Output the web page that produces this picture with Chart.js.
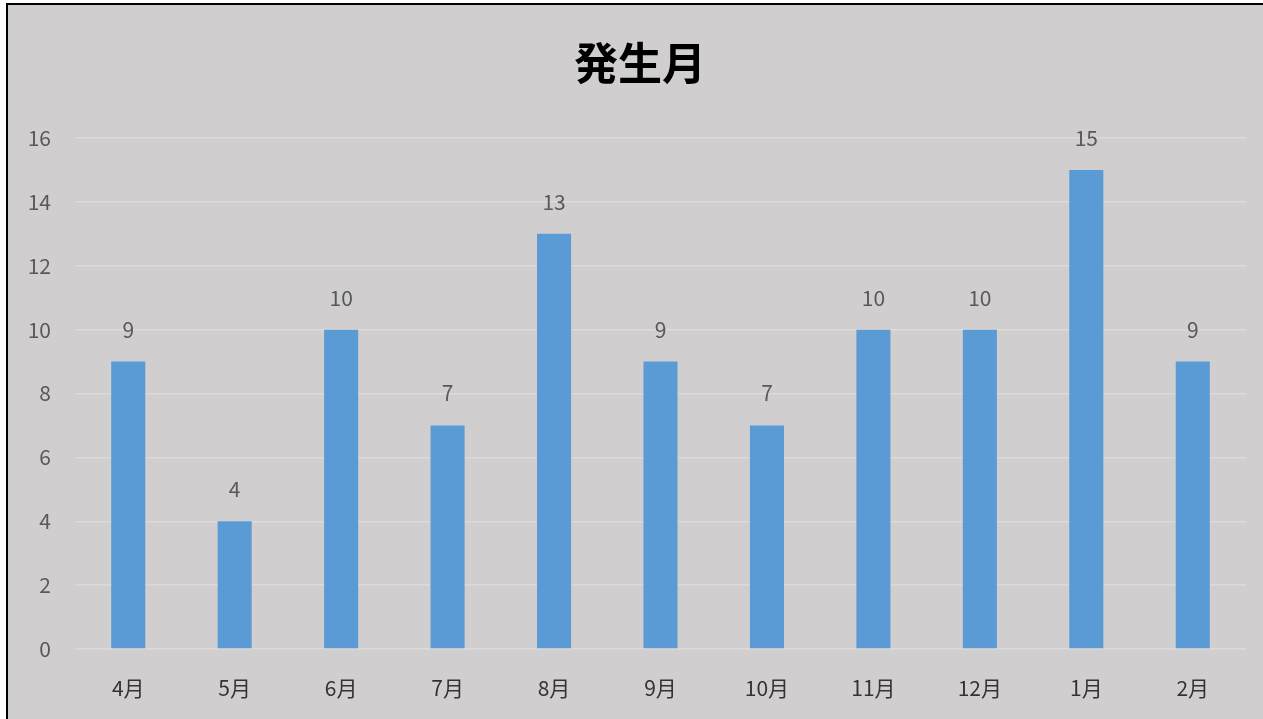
<!DOCTYPE html>
<html>
<head>
<meta charset="utf-8">
<script src="https://cdn.jsdelivr.net/npm/chart.js@4"></script>
<style>
  html, body { margin: 0; padding: 0; overflow: hidden; background: #fff; }
  #frame {
    position: absolute; left: 6px; top: 3px; right: 0; bottom: 0;
    border-left: 2px solid #000; border-top: 2px solid #000; background: #d0cecf;
  }
  #wrap { position: absolute; left: -8px; top: -5px; width: 1263px; height: 719px; }
</style>
</head>
<body>
<div id="frame"><div id="wrap"><canvas id="chart"></canvas></div></div>
<script>
// 発生月ごとの件数
const months = ["4月", "5月", "6月", "7月", "8月", "9月", "10月", "11月", "12月", "1月", "2月"];
const counts = [9, 4, 10, 7, 13, 9, 7, 10, 10, 15, 9];
const yTicks = [0, 2, 4, 6, 8, 10, 12, 14, 16];

const FONT = "'Noto Sans CJK JP', 'Noto Sans', sans-serif";

const overlay = {
  id: "overlay",
  afterDatasetsDraw(chart) {
    const ctx = chart.ctx;
    ctx.save();
    // title
    ctx.fillStyle = "#000";
    ctx.font = "bold 44px " + FONT;
    ctx.textAlign = "center";
    ctx.textBaseline = "middle";
    ctx.fillText("発生月", 640, 63);
    // value labels
    ctx.fillStyle = "#595959";
    ctx.font = "21px " + FONT;
    chart.getDatasetMeta(0).data.forEach((bar, i) => {
      ctx.fillText(String(counts[i]), bar.x, bar.y - 32);
    });
    ctx.restore();
  },
};

new Chart(document.getElementById("chart"), {
  type: "bar",
  data: {
    labels: months,
    datasets: [{
      data: counts,
      backgroundColor: "#5b9bd5",
      barPercentage: 0.32,
      categoryPercentage: 1,
    }],
  },
  options: {
    responsive: true,
    maintainAspectRatio: false,
    animation: false,
    layout: { padding: { top: 138, right: 17, left: 0, bottom: 0 } },
    plugins: {
      legend: { display: false },
      title: { display: false },
      tooltip: { enabled: false },
    },
    scales: {
      x: {
        grid: { display: false },
        border: { display: false },
        ticks: { color: "#333333", font: { family: FONT, size: 21 }, padding: 18 },
        afterFit(s) { s.height = 70; },
      },
      y: {
        min: 0,
        max: 16,
        afterBuildTicks(s) { s.ticks = yTicks.map(v => ({ value: v })); },
        grid: { color: "#dcdadb", lineWidth: 1.5, drawTicks: false },
        border: { display: false },
        ticks: { color: "#595959", font: { family: FONT, size: 21 }, padding: 24 },
        afterFit(s) { s.width = 75; },
      },
    },
  },
  plugins: [overlay],
});
</script>
</body>
</html>
